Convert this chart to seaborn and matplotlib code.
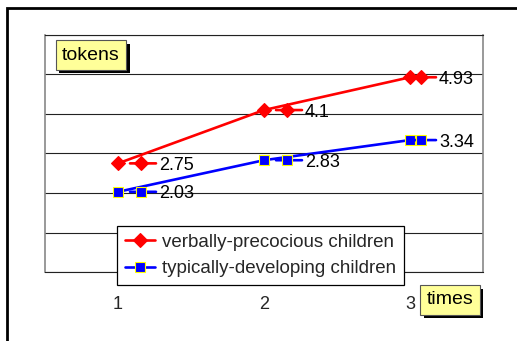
import matplotlib
matplotlib.use("Agg")
import matplotlib.pyplot as plt
from matplotlib.transforms import offset_copy
from matplotlib.patches import Rectangle
import matplotlib.patheffects as pe
import seaborn as sns
import pandas as pd

times = [1, 2, 3]
verbal = [2.75, 4.1, 4.93]
typical = [2.03, 2.83, 3.34]
series_names = ["verbally-precocious children", "typically-developing children"]
y_label = "tokens"
x_label = "times"

sns.set_style("white")
plt.rcParams["font.family"] = ["Liberation Sans", "DejaVu Sans"]

W, H = 517, 341
fig = plt.figure(figsize=(W / 100, H / 100), dpi=100)
ax = fig.add_axes([45 / W, (H - 272) / H, 438 / W, (272 - 35) / H])

df = pd.DataFrame({"time": times + times,
                   "value": verbal + typical,
                   "group": [series_names[0]] * 3 + [series_names[1]] * 3})

styles = {
    series_names[0]: dict(color="#ff0000", marker="D", ms=7, mec="#ff0000", mfc="#ff0000"),
    series_names[1]: dict(color="#0000ff", marker="s", ms=7, mec="#ffff00", mfc="#0000ff"),
}

for name in series_names:
    st = styles[name]
    sub = df[df["group"] == name]
    sns.lineplot(data=sub, x="time", y="value", ax=ax, color=st["color"], lw=1.9,
                 marker=st["marker"], markersize=st["ms"], markeredgecolor=st["mec"],
                 markerfacecolor=st["mfc"], markeredgewidth=0.8, label=name, zorder=3)
    # data labels with legend key (last label pulled left to stay inside the plot)
    for i, (xv, yv) in enumerate(zip(sub["time"], sub["value"])):
        sh = -12 if i == len(sub) - 1 else 0
        ax.annotate("", xy=(xv, yv), xytext=(xv, yv),
                    xycoords=offset_copy(ax.transData, fig, x=38 + sh, y=0, units="dots"),
                    textcoords=offset_copy(ax.transData, fig, x=12 + sh, y=0, units="dots"),
                    arrowprops=dict(arrowstyle="-", color=st["color"], lw=1.9,
                                    shrinkA=0, shrinkB=0), zorder=3)
        ax.plot([xv], [yv], marker=st["marker"], ms=st["ms"], mec=st["mec"], mfc=st["mfc"],
                mew=0.8, ls="none", zorder=4,
                transform=offset_copy(ax.transData, fig, x=23 + sh, y=0, units="dots"))
        ax.annotate(f"{yv:g}", (xv, yv), xytext=(41 + sh, -2), textcoords="offset pixels",
                    va="center", ha="left", fontsize=13, color="black", zorder=5)

ax.set_xlim(0.5, 3.5)
ax.set_ylim(0, 6)
ax.set_yticks(range(0, 7))
ax.set_yticklabels([])
ax.set_xticks(times)
ax.set_xticklabels([str(t) for t in times], fontsize=13)
ax.tick_params(axis="x", length=0, pad=17)
ax.tick_params(axis="y", length=0)
ax.set_xlabel("")
ax.set_ylabel("")
ax.grid(axis="y", color="#222222", lw=0.8)
ax.grid(axis="x", visible=False)
for s in ["left", "right"]:
    ax.spines[s].set_color("#888888")
    ax.spines[s].set_linewidth(1.2)
ax.spines["bottom"].set_color("#222222")
ax.spines["top"].set_color("#222222")
for s in ax.spines.values():
    s.set_visible(True)

leg = ax.legend(loc="upper left", bbox_to_anchor=(117 / W, 1 - 226 / H),
                bbox_transform=fig.transFigure, borderaxespad=0, fancybox=False,
                edgecolor="black", framealpha=1, fontsize=13.5, handlelength=1.6,
                handletextpad=0.4, labelspacing=0.5, borderpad=0.4)
leg.get_frame().set_linewidth(0.9)
leg.set_zorder(10)

def label_box(x, y, text):
    t = fig.text(x, y, text, fontsize=14, ha="center", va="center", color="black",
                 bbox=dict(boxstyle="square,pad=0.32", fc="#ffff99", ec="#555555", lw=0.8),
                 zorder=21)
    t.get_bbox_patch().set_path_effects(
        [pe.SimplePatchShadow(offset=(2.5, -2.5), shadow_rgbFace="black", alpha=1.0),
         pe.Normal()])

label_box(91 / W, 1 - 55 / H, y_label)
label_box(450 / W, 1 - 300 / H, x_label)

fig.patches.append(Rectangle((6.5 / W, -0.1), 1.2, 1 - 7.5 / H + 0.1,
                             transform=fig.transFigure, fill=False,
                             ec="black", lw=2.0, zorder=30))

fig.savefig("out.png", dpi=100)
